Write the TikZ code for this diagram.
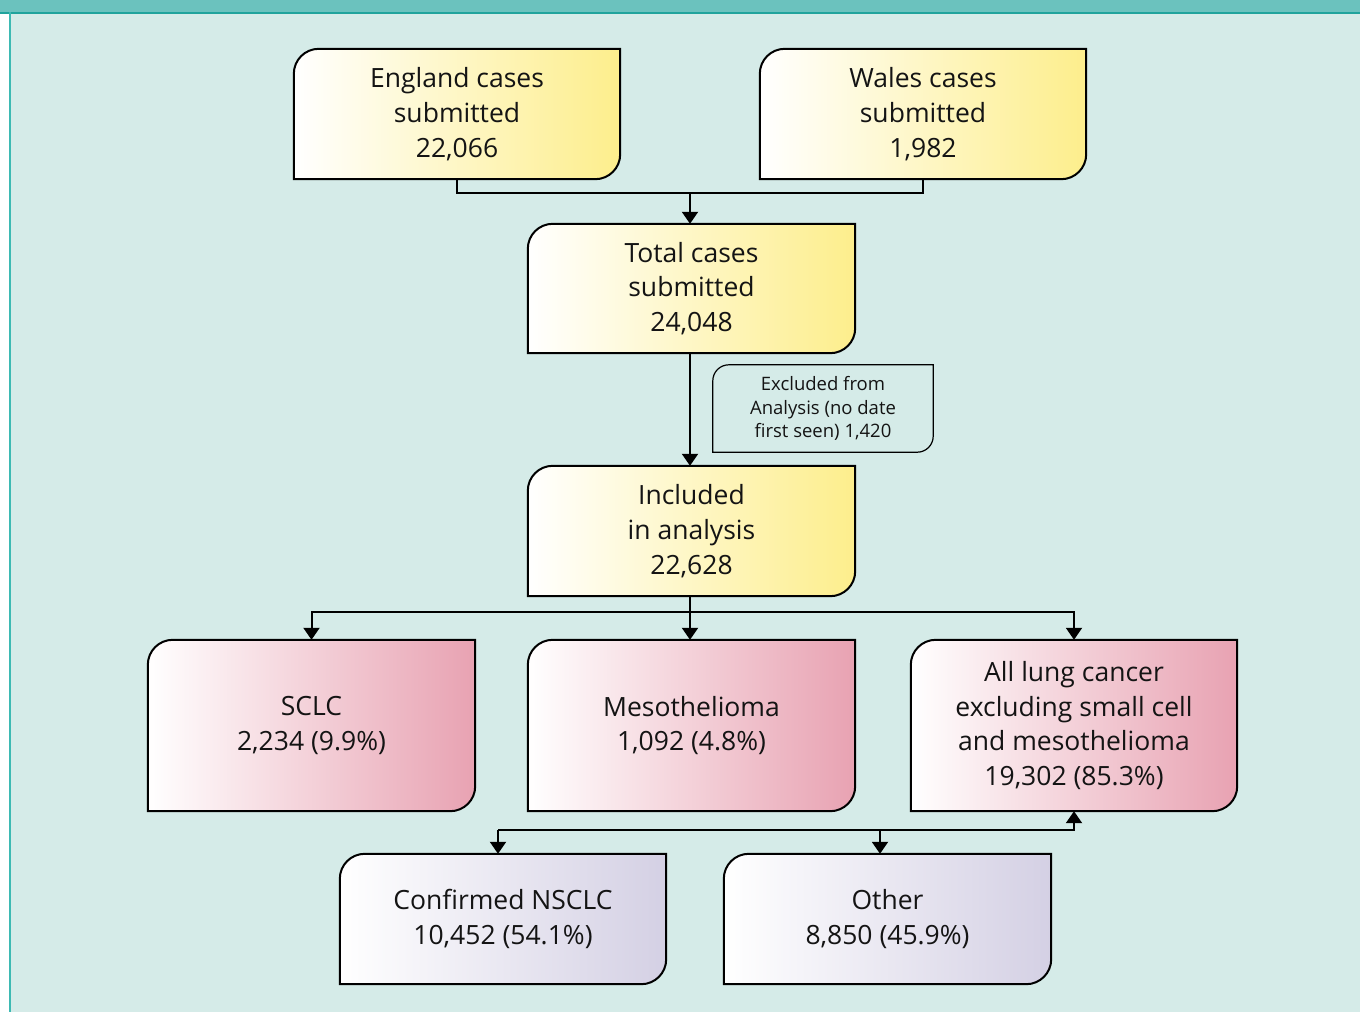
\documentclass[tikz,border=0pt]{standalone}
\usepackage{fontspec}
\setmainfont{Open Sans}
\newfontfamily\smallfam{Open Sans}
\usetikzlibrary{arrows.meta,calc}
\definecolor{bgc}{HTML}{D5EBE8}
\definecolor{barc}{HTML}{6BC2BE}
\definecolor{barline}{HTML}{20A39C}
\definecolor{leftline}{HTML}{3DBAB3}
\definecolor{yel}{HTML}{FDEE8C}
\definecolor{pnk}{HTML}{E8A2B2}
\definecolor{lav}{HTML}{D4D0E4}
\definecolor{txt}{HTML}{141414}
\pgfdeclarelayer{bg}
\pgfdeclarelayer{boxes}
\pgfsetlayers{bg,boxes,main}
\newcommand\flowshape[3]{%
  \path[#3] let \p1=(#1.north west), \p2=(#1.south east) in
    (\x1,\y2) -- (\x1,\y1-#2) arc[start angle=180,end angle=90,radius=#2]
    -- (\x2,\y1) -- (\x2,\y2+#2) arc[start angle=0,end angle=-90,radius=#2] -- cycle;}
\tikzset{
  flow/.style={inner sep=0pt, align=center, text=txt,
    font=\fontsize{26.5}{34.7}\selectfont},
  exbox/.style={inner sep=0pt, align=center, text=txt,
    font=\smallfam\fontsize{18.5}{23.5}\selectfont, minimum width=220pt, minimum height=87pt},
  conn/.style={line width=2pt, black},
  arr/.style={conn, -{Triangle[width=16pt,length=12pt]}},
  boxline/.style={draw=black, line width=2pt},
}
\begin{document}
\begin{tikzpicture}[x=1pt,y=1pt]
\useasboundingbox (0,0) rectangle (1360,-1012);
\begin{pgfonlayer}{bg}
\fill[white] (0,0) rectangle (1360,-1012);
\fill[bgc] (10,-13) rectangle (1360,-1012);
\fill[barc] (0,0) rectangle (1360,-12);
\fill[barline] (0,-12) rectangle (1360,-14);
\fill[leftline] (9,-12) rectangle (11,-1012);
\end{pgfonlayer}

\node[flow, minimum width=326pt, minimum height=130pt] (eng) at (457,-114) {England cases\\submitted\\22,066};
\node[flow, minimum width=326pt, minimum height=130pt] (wal) at (923,-114) {Wales cases\\submitted\\1,982};
\node[flow, minimum width=327pt, minimum height=129pt] (tot) at (691.5,-288.5) {Total cases\\submitted\\24,048};
\node[exbox] (exc) at (823,-408.5) {Excluded from\\Analysis (no date\\first seen) 1,420};
\node[flow, minimum width=327pt, minimum height=130pt] (inc) at (691.5,-531) {Included\\in analysis\\22,628};
\node[flow, minimum width=327pt, minimum height=171pt] (sclc) at (311.5,-725.5) {SCLC\\2,234 (9.9\%)};
\node[flow, minimum width=327pt, minimum height=171pt] (meso) at (691.5,-725.5) {Mesothelioma\\1,092 (4.8\%)};
\node[flow, minimum width=326pt, minimum height=171pt] (allc) at (1074,-725.5) {All lung cancer\\excluding small cell\\and mesothelioma\\19,302 (85.3\%)};
\node[flow, minimum width=326pt, minimum height=130pt] (nsclc) at (503,-919) {Confirmed NSCLC\\10,452 (54.1\%)};
\node[flow, minimum width=327pt, minimum height=130pt] (oth) at (887.5,-919) {Other\\8,850 (45.9\%)};

\begin{pgfonlayer}{boxes}
\flowshape{eng}{25pt}{boxline, left color=white, right color=yel}
\flowshape{wal}{25pt}{boxline, left color=white, right color=yel}
\flowshape{tot}{25pt}{boxline, left color=white, right color=yel}
\flowshape{inc}{25pt}{boxline, left color=white, right color=yel}
\flowshape{sclc}{25pt}{boxline, left color=white, right color=pnk}
\flowshape{meso}{25pt}{boxline, left color=white, right color=pnk}
\flowshape{allc}{25pt}{boxline, left color=white, right color=pnk}
\flowshape{nsclc}{25pt}{boxline, left color=white, right color=lav}
\flowshape{oth}{25pt}{boxline, left color=white, right color=lav}
\flowshape{exc}{16pt}{draw=black, line width=1.2pt}
\end{pgfonlayer}

\coordinate (j1) at (690,-193);
\coordinate (j2) at (690,-612);
\coordinate (j3) at (880,-830);
\coordinate (n1) at (498,-830);

\draw[conn] (eng.south) |- (j1) -| (wal.south);
\draw[arr] (j1) -- (j1 |- tot.north);
\draw[arr] (j1 |- tot.south) -- (j1 |- inc.north);
\draw[conn] (j2 |- inc.south) -- (j2);
\draw[arr] (j2) -- (j2 |- meso.north);
\draw[arr] (j2) -| (sclc.north);
\draw[arr] (j2) -| (allc.north);
\draw[arr] (j3) -| (allc.south);
\draw[conn] (j3) -- (n1);
\draw[arr] (n1) -- (n1 |- nsclc.north);
\draw[arr] (j3) -- (j3 |- oth.north);
\end{tikzpicture}
\end{document}
